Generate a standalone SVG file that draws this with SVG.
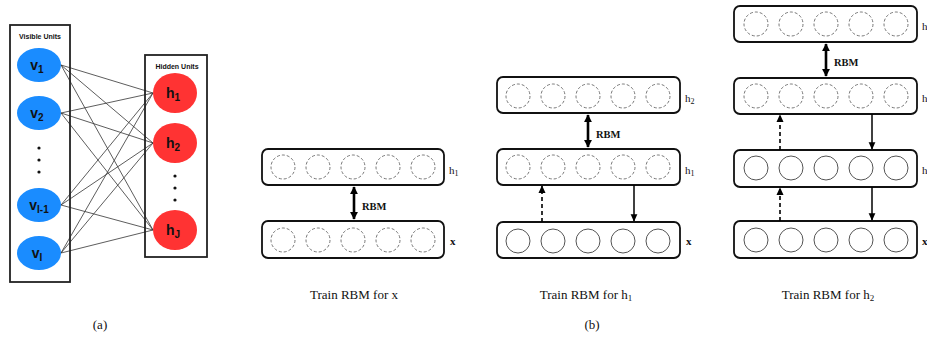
<svg xmlns="http://www.w3.org/2000/svg" width="927" height="340" viewBox="0 0 927 340">
<style>
.frame{fill:none;stroke:#222;stroke-width:1.8}
.vis{fill:#1a8cff}
.hid{fill:#ff3333}
.edge{stroke:#333;stroke-width:0.8}
.ulbl{font-family:"Liberation Sans",Arial,sans-serif;font-weight:bold;font-size:7px;fill:#111}
.nlbl{font-family:"Liberation Sans",Arial,sans-serif;font-weight:bold;font-size:14px;fill:#111}
.sub{font-size:10px}
.dot{fill:#111}
.box{fill:#fff;stroke:#111;stroke-width:1.8}
.dc{fill:none;stroke:#777;stroke-width:1;stroke-dasharray:3 2}
.sc{fill:none;stroke:#555;stroke-width:1}
.lay{font-family:"Liberation Serif","Times New Roman",serif;font-size:11px;fill:#111}
.rbm{font-family:"Liberation Serif","Times New Roman",serif;font-size:10.5px;font-weight:bold;fill:#111}
.cap{font-family:"Liberation Serif","Times New Roman",serif;font-size:13px;fill:#111}
.dbl{stroke:#000;stroke-width:2.6;fill:none}
.sol{stroke:#000;stroke-width:1.5;fill:none}
.dsh{stroke:#000;stroke-width:1.6;fill:none;stroke-dasharray:4 3}
</style>
<defs>
<marker id="bigHead" viewBox="0 0 10 10" refX="9" refY="5" markerWidth="3.2" markerHeight="3.2" orient="auto-start-reverse"><path d="M0,0 L10,5 L0,10 z" fill="#000"/></marker>
<marker id="head" viewBox="0 0 10 10" refX="9" refY="5" markerWidth="5" markerHeight="5" orient="auto"><path d="M0,0.5 L10,5 L0,9.5 z" fill="#000"/></marker>
<g id="dashRow">
<circle class="dc" cx="0" cy="0" r="12"/><circle class="dc" cx="35" cy="0" r="12"/><circle class="dc" cx="70" cy="0" r="12"/><circle class="dc" cx="105" cy="0" r="12"/><circle class="dc" cx="140" cy="0" r="12"/>
</g>
<g id="solidRow">
<circle class="sc" cx="0" cy="0" r="12"/><circle class="sc" cx="35" cy="0" r="12"/><circle class="sc" cx="70" cy="0" r="12"/><circle class="sc" cx="105" cy="0" r="12"/><circle class="sc" cx="140" cy="0" r="12"/>
</g>
</defs>

<!-- (a) RBM -->
<g id="connectors-a">
<line class="edge" x1="61" y1="65" x2="153" y2="93"/><line class="edge" x1="61" y1="65" x2="153" y2="143"/><line class="edge" x1="61" y1="65" x2="153" y2="230"/>
<line class="edge" x1="61" y1="113" x2="153" y2="93"/><line class="edge" x1="61" y1="113" x2="153" y2="143"/><line class="edge" x1="61" y1="113" x2="153" y2="230"/>
<line class="edge" x1="61" y1="205" x2="153" y2="93"/><line class="edge" x1="61" y1="205" x2="153" y2="143"/><line class="edge" x1="61" y1="205" x2="153" y2="230"/>
<line class="edge" x1="61" y1="253" x2="153" y2="93"/><line class="edge" x1="61" y1="253" x2="153" y2="143"/><line class="edge" x1="61" y1="253" x2="153" y2="230"/>
</g>
<g id="visible-units">
<rect class="frame" x="10" y="25" width="60" height="257"/>
<text class="ulbl" x="40" y="38.5" text-anchor="middle">Visible Units</text>
</g>
<g id="v1"><ellipse class="vis" cx="39" cy="65" rx="22" ry="17"/><text class="nlbl" x="37" y="70" text-anchor="middle">v<tspan class="sub" dy="3">1</tspan></text></g>
<g id="v2"><ellipse class="vis" cx="39" cy="113" rx="22" ry="17"/><text class="nlbl" x="37" y="118" text-anchor="middle">v<tspan class="sub" dy="3">2</tspan></text></g>
<g id="vdots"><circle class="dot" cx="39" cy="148" r="1.6"/><circle class="dot" cx="39" cy="160" r="1.6"/><circle class="dot" cx="39" cy="172" r="1.6"/></g>
<g id="vI-1"><ellipse class="vis" cx="39" cy="205" rx="22" ry="17"/><text class="nlbl" x="39" y="210" text-anchor="middle">v<tspan class="sub" dy="3">I-1</tspan></text></g>
<g id="vI"><ellipse class="vis" cx="39" cy="253" rx="22" ry="17"/><text class="nlbl" x="37" y="258" text-anchor="middle">v<tspan class="sub" dy="3">I</tspan></text></g>

<g id="hidden-units">
<rect class="frame" x="145" y="55" width="62" height="202"/>
<text class="ulbl" x="177" y="68.5" text-anchor="middle">Hidden Units</text>
</g>
<g id="h1"><ellipse class="hid" cx="175" cy="93" rx="22" ry="20"/><text class="nlbl" x="173" y="98" text-anchor="middle">h<tspan class="sub" dy="3">1</tspan></text></g>
<g id="h2"><ellipse class="hid" cx="175" cy="143" rx="22" ry="20"/><text class="nlbl" x="173" y="148" text-anchor="middle">h<tspan class="sub" dy="3">2</tspan></text></g>
<g id="hdots"><circle class="dot" cx="175" cy="176" r="1.6"/><circle class="dot" cx="175" cy="188" r="1.6"/><circle class="dot" cx="175" cy="200" r="1.6"/></g>
<g id="hJ"><ellipse class="hid" cx="175" cy="230" rx="22" ry="20"/><text class="nlbl" x="173" y="235" text-anchor="middle">h<tspan class="sub" dy="3">J</tspan></text></g>
<text class="cap" x="100" y="329" text-anchor="middle">(a)</text>

<!-- (b) stack 1 -->
<g id="s1-h1"><rect class="box" x="262" y="149" width="182" height="36" rx="6"/><use href="#dashRow" x="283" y="167"/><text class="lay" x="449" y="174">h<tspan font-size="8" dy="2">1</tspan></text></g>
<g id="s1-x"><rect class="box" x="262" y="221" width="182" height="37" rx="6"/><use href="#dashRow" x="283" y="240"/><text class="lay" x="450" y="245" font-weight="bold">x</text></g>

<!-- stack 2 -->
<g id="s2-h2"><rect class="box" x="497" y="77" width="183" height="36" rx="6"/><use href="#dashRow" x="518" y="96"/><text class="lay" x="685" y="102">h<tspan font-size="8" dy="2">2</tspan></text></g>
<g id="s2-h1"><rect class="box" x="497" y="149" width="183" height="36" rx="6"/><use href="#dashRow" x="518" y="167"/><text class="lay" x="685" y="174">h<tspan font-size="8" dy="2">1</tspan></text></g>
<g id="s2-x"><rect class="box" x="497" y="222" width="183" height="36" rx="6"/><use href="#solidRow" x="518" y="241"/><text class="lay" x="686" y="245" font-weight="bold">x</text></g>

<!-- stack 3 -->
<g id="s3-h3"><rect class="box" x="734" y="6" width="183" height="36" rx="6"/><use href="#dashRow" x="756" y="24"/><text class="lay" x="922" y="30">h<tspan font-size="8" dy="2">3</tspan></text></g>
<g id="s3-h2"><rect class="box" x="734" y="78" width="183" height="36" rx="6"/><use href="#dashRow" x="756" y="96"/><text class="lay" x="922" y="102">h<tspan font-size="8" dy="2">2</tspan></text></g>
<g id="s3-h1"><rect class="box" x="734" y="150" width="183" height="37" rx="6"/><use href="#solidRow" x="756" y="168"/><text class="lay" x="922" y="174">h<tspan font-size="8" dy="2">1</tspan></text></g>
<g id="s3-x"><rect class="box" x="734" y="221" width="183" height="37" rx="6"/><use href="#solidRow" x="756" y="240"/><text class="lay" x="922" y="245" font-weight="bold">x</text></g>

<g id="connectors-b">
<line class="dbl" x1="354" y1="187" x2="354" y2="219" marker-start="url(#bigHead)" marker-end="url(#bigHead)"/>
<line class="dbl" x1="588" y1="115" x2="588" y2="147" marker-start="url(#bigHead)" marker-end="url(#bigHead)"/>
<line class="dsh" x1="542" y1="222" x2="542" y2="186" marker-end="url(#head)"/>
<line class="sol" x1="634" y1="185" x2="634" y2="221" marker-end="url(#head)"/>
<line class="dbl" x1="826" y1="44" x2="826" y2="76" marker-start="url(#bigHead)" marker-end="url(#bigHead)"/>
<line class="dsh" x1="780" y1="150" x2="780" y2="115" marker-end="url(#head)"/>
<line class="sol" x1="872" y1="114" x2="872" y2="149" marker-end="url(#head)"/>
<line class="dsh" x1="780" y1="221" x2="780" y2="188" marker-end="url(#head)"/>
<line class="sol" x1="872" y1="187" x2="872" y2="220" marker-end="url(#head)"/>
</g>
<text class="rbm" x="362" y="210">RBM</text>
<text class="rbm" x="596" y="138">RBM</text>
<text class="rbm" x="834" y="66">RBM</text>

<text class="cap" x="354" y="299" text-anchor="middle">Train RBM for x</text>
<text class="cap" x="586" y="299" text-anchor="middle">Train RBM for h<tspan font-size="9" dy="2">1</tspan></text>
<text class="cap" x="828" y="299" text-anchor="middle">Train RBM for h<tspan font-size="9" dy="2">2</tspan></text>
<text class="cap" x="592" y="329" text-anchor="middle">(b)</text>
</svg>
